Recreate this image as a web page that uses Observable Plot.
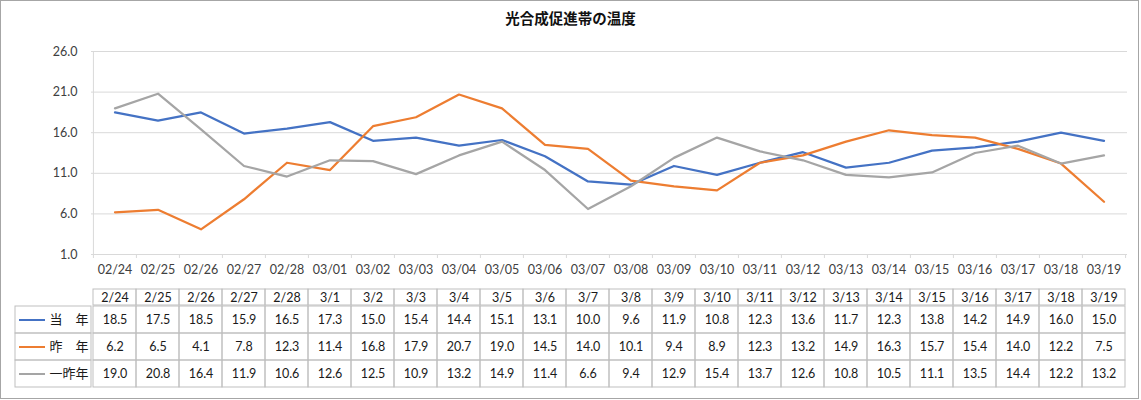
<!DOCTYPE html>
<html><head><meta charset="utf-8">
<script src="https://cdn.jsdelivr.net/npm/d3@7"></script>
<script src="https://cdn.jsdelivr.net/npm/@observablehq/plot@0.6"></script>
<style>
body{margin:0;background:#fff;}
#wrap{position:relative;width:1141px;height:400px;overflow:hidden;background:#fff;}
#border{position:absolute;left:0;top:0;width:1139px;height:399px;box-sizing:border-box;border:1px solid #a6a6a6;pointer-events:none;}
#title{height:40px;line-height:40px;text-align:center;font:bold 14.5px "Noto Sans CJK JP",sans-serif;color:#111;}
#title span{position:relative;top:7px;}
svg{display:block;flex:none;max-width:none;}
.row{display:flex;}
</style></head>
<body><div id="wrap"><div id="title"><span>光合成促進帯の温度</span></div><div id="chart"></div><div id="thead"></div><div class="row" id="tbody"></div><div id="border"></div></div>
<script>
const dates = ["02/24","02/25","02/26","02/27","02/28","03/01","03/02","03/03","03/04","03/05","03/06","03/07","03/08","03/09","03/10","03/11","03/12","03/13","03/14","03/15","03/16","03/17","03/18","03/19"];
const shortDates = ["2/24","2/25","2/26","2/27","2/28","3/1","3/2","3/3","3/4","3/5","3/6","3/7","3/8","3/9","3/10","3/11","3/12","3/13","3/14","3/15","3/16","3/17","3/18","3/19"];
const thisYear = [18.5,17.5,18.5,15.9,16.5,17.3,15.0,15.4,14.4,15.1,13.1,10.0,9.6,11.9,10.8,12.3,13.6,11.7,12.3,13.8,14.2,14.9,16.0,15.0];
const lastYear = [6.2,6.5,4.1,7.8,12.3,11.4,16.8,17.9,20.7,19.0,14.5,14.0,10.1,9.4,8.9,12.3,13.2,14.9,16.3,15.7,15.4,14.0,12.2,7.5];
const twoYearsAgo = [19.0,20.8,16.4,11.9,10.6,12.6,12.5,10.9,13.2,14.9,11.4,6.6,9.4,12.9,15.4,13.7,12.6,10.8,10.5,11.1,13.5,14.4,12.2,13.2];
const seriesNames = ["当　年","昨　年","一昨年"];
const seriesColors = ["#4472C4","#ED7D31","#A5A5A5"];
const yTicks = [1,6,11,16,21,26];

const seriesValues = [thisYear, lastYear, twoYearsAgo];
const series = seriesNames.map((name,k)=>({name, color:seriesColors[k], values:seriesValues[k]}));
const long = series.flatMap(s => s.values.map((v,i)=>({date:dates[i], value:v, series:s.name, color:s.color})));

const W = 1141, ML = 91, MR = 14;
const bw = (W-ML-MR)/dates.length;
const gridC = "#d9d9d9", tableC = "#bfbfbf";

const chart = Plot.plot({
  width:W, height:249, marginLeft:ML, marginRight:MR, marginTop:11, marginBottom:35,
  style:{fontFamily:"Lato, sans-serif", fontSize:"12.5px", color:"#404040", background:"transparent", overflow:"visible"},
  x:{type:"band", domain:dates, padding:0, tickSize:0, tickPadding:11, label:null},
  y:{domain:[1,26], ticks:yTicks, tickFormat:d=>d.toFixed(1), tickSize:0, tickPadding:14, label:null},
  color:{type:"identity"},
  marks:[
    Plot.ruleY(yTicks,{stroke:gridC, strokeWidth:1}),
    Plot.ruleX([dates[0]],{dx:-bw/2, stroke:gridC}),
    Plot.ruleX(dates,{x:d=>d, y1:1, y2:1, dx:-bw/2, insetBottom:-4, stroke:gridC}),
    Plot.ruleX([dates[dates.length-1]],{x:d=>d, y1:1, y2:1, dx:bw/2, insetBottom:-4, stroke:gridC}),
    ...series.map(s => Plot.line(long.filter(d=>d.series===s.name),{x:"date", y:"value", stroke:s.color, strokeWidth:2.25}))
  ]
});
document.getElementById("chart").append(chart);

const txtStyle = {fontFamily:"Lato, sans-serif", fontSize:"12.5px", color:"#1a1a1a", background:"transparent", overflow:"visible"};

const head = Plot.plot({
  width:W, height:16, marginLeft:ML, marginRight:MR, marginTop:0, marginBottom:0,
  style:txtStyle,
  x:{type:"band", domain:dates, padding:0, axis:null},
  y:{type:"band", domain:["h"], padding:0, axis:null},
  marks:[
    Plot.cell(dates,{x:d=>d, y:()=>"h", stroke:tableC, fill:"none"}),
    Plot.text(dates,{x:d=>d, y:()=>"h", text:(d,i)=>shortDates[i], fill:"#1a1a1a", fontSize:12.5})
  ]
});
document.getElementById("thead").append(head);

const left = Plot.plot({
  width:ML, height:82, marginLeft:15, marginRight:0, marginTop:0, marginBottom:0,
  style:{...txtStyle, fontFamily:"'Noto Sans CJK JP', sans-serif", fontSize:"13px"},
  x:{type:"band", domain:["k"], padding:0, axis:null},
  y:{type:"band", domain:seriesNames, padding:0, axis:null},
  color:{type:"identity"},
  marks:[
    Plot.cell(series,{x:()=>"k", y:"name", stroke:tableC, fill:"none"}),
    Plot.tickY(series,{x:()=>"k", y:"name", stroke:"color", insetLeft:4, insetRight:46, strokeWidth:2}),
    Plot.text(series,{y:"name", text:"name", frameAnchor:"right", textAnchor:"end", dx:-3, fill:"#1a1a1a"})
  ]
});
const cells = series.flatMap(s => s.values.map((v,i)=>({date:dates[i], row:s.name, value:v})));
const body = Plot.plot({
  width:W-ML, height:82, marginLeft:0, marginRight:MR, marginTop:0, marginBottom:0,
  style:txtStyle,
  x:{type:"band", domain:dates, padding:0, axis:null},
  y:{type:"band", domain:seriesNames, padding:0, axis:null},
  marks:[
    Plot.cell(cells,{x:"date", y:"row", stroke:tableC, fill:"none"}),
    Plot.text(cells,{x:"date", y:"row", text:d=>d.value.toFixed(1), fill:"#1a1a1a", fontSize:12.5})
  ]
});
document.getElementById("tbody").append(left, body);
</script>
</body></html>
